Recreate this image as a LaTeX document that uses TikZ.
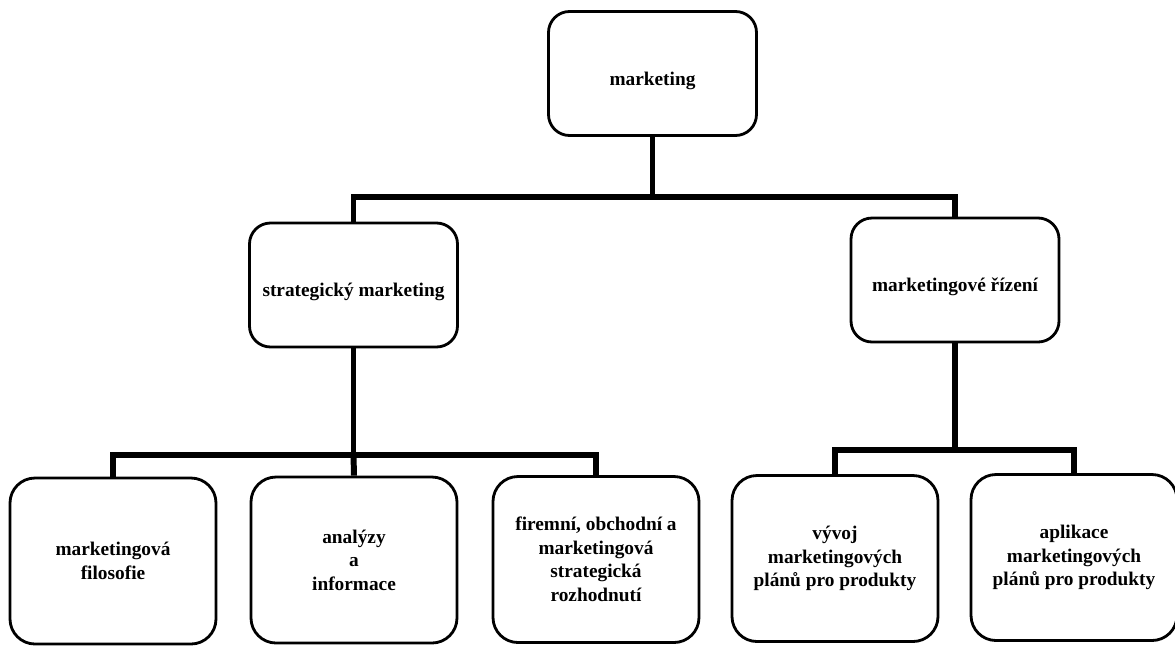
\documentclass[tikz,border=0pt]{standalone}
\usepackage{fontspec}
\setmainfont{Liberation Serif}
\tikzset{box/.style={draw,line width=1.6pt,rounded corners=0.42cm,align=center,
                     font=\fontsize{11}{13.4}\selectfont\bfseries},
         topbox/.style={box,minimum width=4.16cm,minimum height=2.48cm,text height=16pt,text depth=2.5pt},
         lowbox/.style={box,minimum width=4.12cm,minimum height=3.32cm,rounded corners=0.5cm},
         link/.style={line width=3.4pt,line join=miter}}

\begin{document}
\begin{tikzpicture}
\useasboundingbox (0,0) rectangle (23.5,-12.92);
\node [topbox] (mkt) at (13.05,-1.47) {marketing};
\node [topbox] (strat) at (7.07,-5.70) {strategický marketing};
\node [topbox] (rizeni) at (19.10,-5.60) {marketingové řízení};
\node [lowbox] (filo) at (2.26,-11.22) {marketingová\\filosofie};
\node [lowbox] (anal) at (7.08,-11.20) {analýzy\\a\\informace};
\node [lowbox] (rozh) at (11.92,-11.19) {firemní, obchodní a\\marketingová\\strategická\\rozhodnutí};
\node [lowbox] (vyvoj) at (16.70,-11.17) {vývoj\\marketingových\\plánů pro produkty};
\node [lowbox] (apl) at (21.48,-11.15) {aplikace\\marketingových\\plánů pro produkty};
\coordinate (j1) at (13.05,-3.94);
\coordinate (j2) at (7.07,-9.10);
\coordinate (j3) at (19.10,-9.00);
\draw [link] (mkt.south) -- (j1);
\draw [link] (strat.north) |- (j1) -| (rizeni.north);
\draw [link] (strat.south) -- (j2);
\draw [link] (filo.north) |- (j2) -| (rozh.north);
\draw [link] (j2) -- (anal.north);
\draw [link] (rizeni.south) -- (j3);
\draw [link] (vyvoj.north) |- (j3) -| (apl.north);
\end{tikzpicture}
\end{document}
